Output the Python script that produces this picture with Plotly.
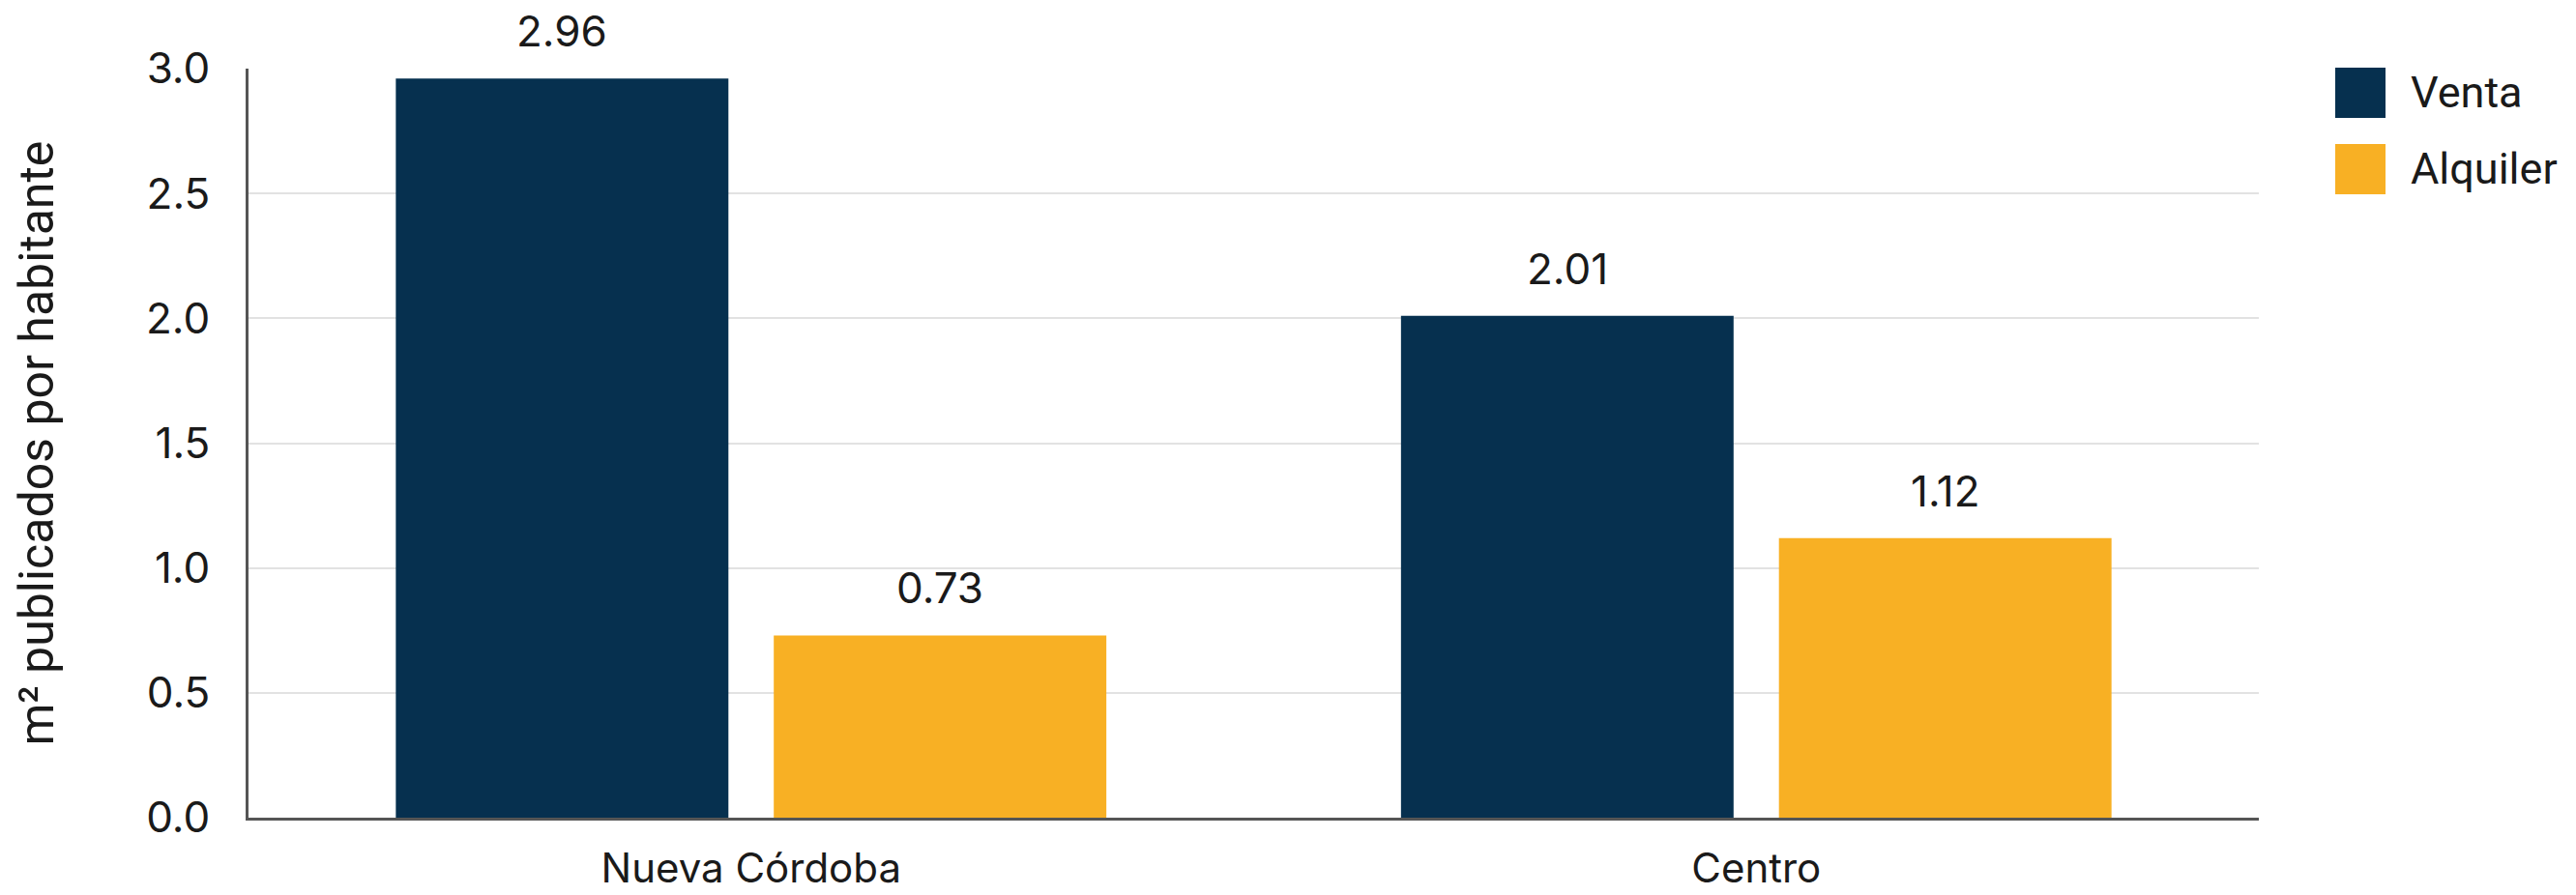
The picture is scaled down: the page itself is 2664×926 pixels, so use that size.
import plotly.graph_objects as go

categories = ["Nueva Córdoba", "Centro"]
series_names = ["Venta", "Alquiler"]
venta = [2.96, 2.01]
alquiler = [0.73, 1.12]
colors = ["#06304F", "#F8B024"]
y_ticks = [0.0, 0.5, 1.0, 1.5, 2.0, 2.5, 3.0]
y_title = "m² publicados por habitante"

W, H = 2664, 926
L, R, T, B = 257, 328, 71, 80
plot_w = W - L - R
plot_h = H - T - B

fig = go.Figure()
for name, vals, col in zip(series_names, [venta, alquiler], colors):
    fig.add_trace(go.Bar(x=categories, y=vals, name=name, marker_color=col,
                         marker_line_width=0, showlegend=False))

bargap, groupgap = 0.248, 0.12
slot = plot_w / len(categories) * (1 - bargap) / len(series_names)
annotations = []
for i, vals in enumerate([venta, alquiler]):
    shift = (i - (len(series_names) - 1) / 2) * slot
    for c, v in zip(categories, vals):
        annotations.append(dict(x=c, y=v, xref="x", yref="y", text=f"{v:.2f}",
                                showarrow=False, xshift=shift, yshift=20,
                                yanchor="bottom", xanchor="center",
                                font=dict(family="Inter", size=44, color="#1a1a1a")))

# legend drawn as shapes + text
shapes = []
leg_x0 = 2415
leg_rows = [96, 175]
box = 52
for name, col, cy in zip(series_names, colors, leg_rows):
    px0 = (leg_x0 - L) / plot_w
    px1 = (leg_x0 + box - L) / plot_w
    py0 = (H - B - (cy + box / 2)) / plot_h
    py1 = (H - B - (cy - box / 2)) / plot_h
    shapes.append(dict(type="rect", xref="paper", yref="paper", x0=px0, x1=px1,
                       y0=py0, y1=py1, fillcolor=col, line_width=0))
    annotations.append(dict(x=(2491 - L) / plot_w, y=(H - B - cy) / plot_h,
                            xref="paper", yref="paper", text=name, showarrow=False,
                            xanchor="left", yanchor="middle",
                            font=dict(family="Roboto", size=45, color="#1a1a1a")))

# y-axis title
annotations.append(dict(x=(37 - L) / plot_w, y=0.5, xref="paper", yref="paper",
                        text=y_title, textangle=-90, showarrow=False,
                        xanchor="center", yanchor="middle",
                        font=dict(family="Roboto", size=50, color="#1a1a1a")))

fig.update_layout(
    width=W, height=H,
    margin=dict(l=L, r=R, t=T, b=B, autoexpand=False),
    paper_bgcolor="white", plot_bgcolor="white",
    barmode="group", bargap=bargap, bargroupgap=groupgap,
    showlegend=False,
    annotations=annotations, shapes=shapes,
    font=dict(family="Inter", size=44, color="#1a1a1a"),
)
fig.update_xaxes(showline=True, linecolor="#555555", linewidth=3, showgrid=False,
                 ticks="", tickfont=dict(family="Inter", size=42, color="#1a1a1a"),
                 ticklabelstandoff=14, automargin=False)
fig.update_yaxes(range=[0, 3], tickvals=y_ticks, ticktext=[f"{t:.1f}" for t in y_ticks],
                 showline=True, linecolor="#555555", linewidth=3,
                 showgrid=True, gridcolor="#E2E2E2", gridwidth=2, zeroline=False,
                 ticks="", tickfont=dict(family="Inter", size=44, color="#1a1a1a"),
                 ticklabelstandoff=28, automargin=False)

fig.write_html("out.html")
